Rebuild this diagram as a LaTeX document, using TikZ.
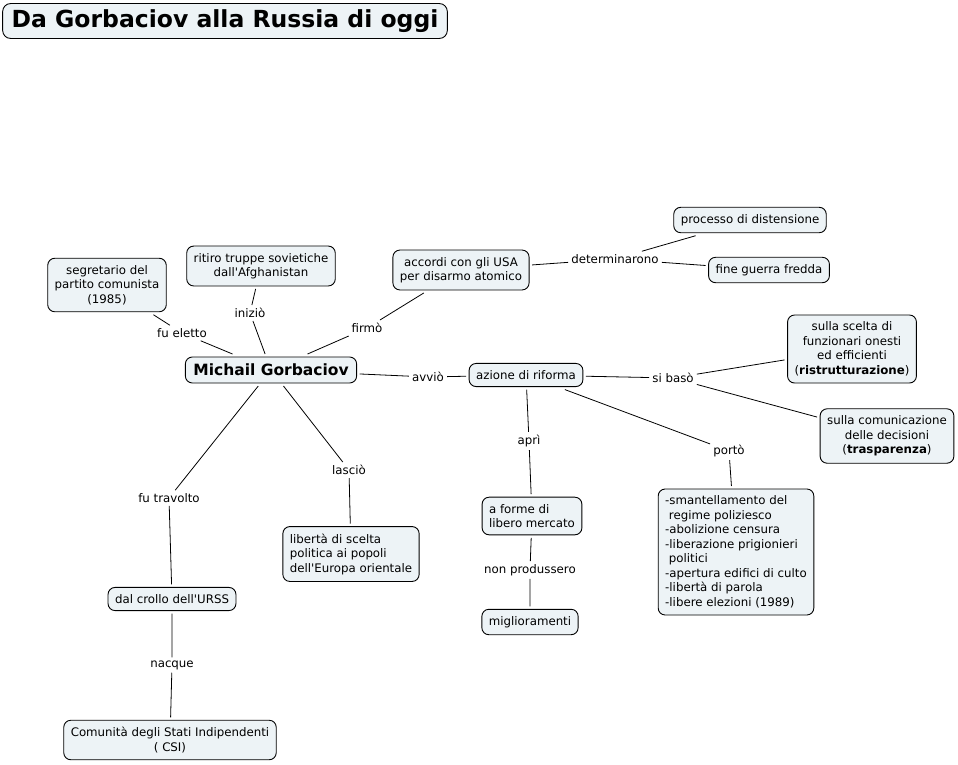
\documentclass[tikz,border=0pt]{standalone}
\usepackage{fontspec}
\setmainfont{DejaVu Sans}
\usepackage{tikz}

\definecolor{boxfill}{RGB}{237,243,246}

\newcommand{\apo}{\textquotesingle}

\tikzset{
  concept/.style={draw=black, fill=boxfill, rounded corners=7pt, line width=0.9pt,
    align=center, inner xsep=7pt, inner ysep=7pt, outer sep=3pt,
    font=\fontsize{11.8}{14.5}\selectfont},
  leftconcept/.style={concept, align=left},
  linkword/.style={inner sep=3pt, font=\fontsize{11.8}{14.5}\selectfont},
  link/.style={draw=black, line width=0.8pt}
}

\begin{document}
\begin{tikzpicture}[x=1pt, y=-1pt]
    \useasboundingbox (0, 0) rectangle (958, 764);

    % title
    \node[concept, font=\fontsize{23.5}{26}\selectfont\bfseries, inner xsep=9pt, inner ysep=6pt, rounded corners=8pt]
      (title) at (225, 21) {Da Gorbaciov alla Russia di oggi};

    % concepts
    \node[concept, font=\fontsize{15.5}{17}\selectfont\bfseries, inner xsep=8pt] (gorbaciov) at (271, 370) {Michail Gorbaciov};
    \node[concept] (segretario) at (107, 285) {segretario del\\partito comunista\\(1985)};
    \node[concept] (ritiro) at (261, 266) {ritiro truppe sovietiche\\dall\apo Afghanistan};
    \node[concept] (accordi) at (461, 270) {accordi con gli USA\\per disarmo atomico};
    \node[concept] (distensione) at (750, 220) {processo di distensione};
    \node[concept] (guerra) at (769, 270) {fine guerra fredda};
    \node[concept] (riforma) at (526, 375) {azione di riforma};
    \node[concept] (scelta) at (852, 349) {sulla scelta di\\funzionari onesti\\ed efficienti\\(\textbf{ristrutturazione})};
    \node[concept] (comunicazione) at (887, 436) {sulla comunicazione\\delle decisioni\\(\textbf{trasparenza})};
    \node[leftconcept] (liberta) at (351, 554) {libertà di scelta\\politica ai popoli\\dell\apo Europa orientale};
    \node[leftconcept] (mercato) at (532, 516) {a forme di\\libero mercato};
    \node[concept] (miglioramenti) at (530, 622) {miglioramenti};
    \node[leftconcept] (riforme) at (736, 552) {-smantellamento del\\\ regime poliziesco\\-abolizione censura\\-liberazione prigionieri\\\ politici\\-apertura edifici di culto\\-libertà di parola\\-libere elezioni (1989)};
    \node[concept] (crollo) at (172, 599) {dal crollo dell\apo URSS};
    \node[concept] (csi) at (170, 740) {Comunità degli Stati Indipendenti\\( CSI)};

    % linking words
    \node[linkword] (eletto) at (182, 333) {fu eletto};
    \node[linkword] (inizio) at (250, 313) {iniziò};
    \node[linkword] (firmo) at (367, 328) {firmò};
    \node[linkword] (determinarono) at (615, 259) {determinarono};
    \node[linkword] (avvio) at (428, 377) {avviò};
    \node[linkword] (baso) at (673, 378) {si basò};
    \node[linkword] (apri) at (529, 441) {aprì};
    \node[linkword] (porto) at (729, 451) {portò};
    \node[linkword] (lascio) at (349, 470) {lasciò};
    \node[linkword] (travolto) at (169, 498) {fu travolto};
    \node[linkword] (produssero) at (530, 570) {non produssero};
    \node[linkword] (nacque) at (172, 665) {nacque};

    % connectors
    \draw[link] (segretario) -- (eletto) -- (gorbaciov);
    \draw[link] (ritiro) -- (inizio) -- (gorbaciov);
    \draw[link] (accordi) -- (firmo) -- (gorbaciov);
    \draw[link] (accordi) -- (determinarono);
    \draw[link] (determinarono) -- (distensione);
    \draw[link] (determinarono) -- (guerra);
    \draw[link] (gorbaciov) -- (avvio) -- (riforma);
    \draw[link] (riforma) -- (baso);
    \draw[link] (baso) -- (scelta);
    \draw[link] (baso) -- (comunicazione);
    \draw[link] (riforma) -- (apri) -- (mercato);
    \draw[link] (riforma) -- (porto) -- (riforme);
    \draw[link] (mercato) -- (produssero) -- (miglioramenti);
    \draw[link] (gorbaciov) -- (lascio) -- (liberta);
    \draw[link] (gorbaciov) -- (travolto) -- (crollo);
    \draw[link] (crollo) -- (nacque) -- (csi);
\end{tikzpicture}
\end{document}
